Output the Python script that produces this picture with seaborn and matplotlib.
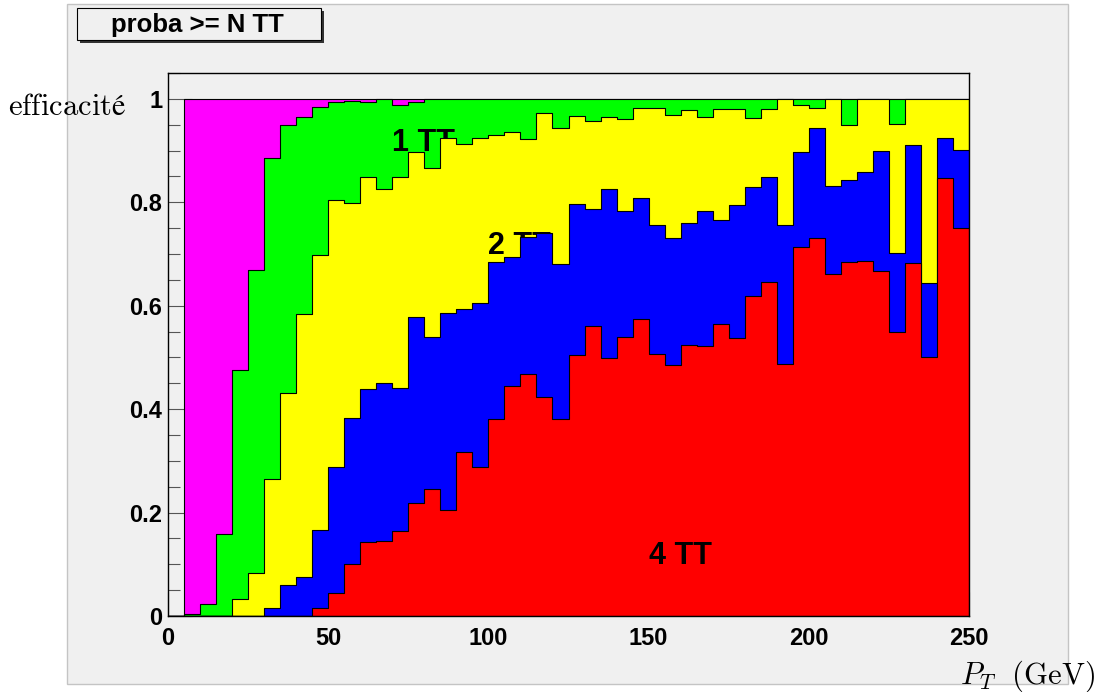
import numpy as np
import pandas as pd
import matplotlib.pyplot as plt
import seaborn as sns
from matplotlib.patches import Rectangle
from matplotlib.ticker import MultipleLocator

# bins of 5 GeV from 0 to 250
edges = np.arange(0, 255, 5)
centers = edges[:-1] + 2.5

# efficiency for >= N TT, one value per bin
proba_0 = [0.0] + [1.0] * 49
proba_1 = [0.0, 0.003, 0.023, 0.159, 0.476, 0.670, 0.885, 0.950, 0.965, 0.985,
           0.993, 0.995, 0.993, 1.0, 0.988, 0.993] + [1.0] * 34
proba_2 = [0.0, 0.0, 0.0, 0.0, 0.033, 0.083, 0.264, 0.432, 0.584, 0.699,
           0.804, 0.799, 0.849, 0.825, 0.849, 0.897, 0.867, 0.924, 0.913, 0.925,
           0.931, 0.935, 0.923, 0.972, 0.943, 0.967, 0.958, 0.965, 0.961, 0.983,
           0.982, 0.969, 0.979, 0.965, 0.980, 0.981, 0.963, 0.981, 1.0, 0.988,
           0.983, 1.0, 0.949, 1.0, 1.0, 0.951, 1.0, 1.0, 1.0, 1.0]
proba_3 = [0.0, 0.0, 0.0, 0.0, 0.0, 0.0, 0.016, 0.059, 0.075, 0.167,
           0.289, 0.383, 0.438, 0.451, 0.440, 0.579, 0.540, 0.586, 0.594, 0.605,
           0.684, 0.695, 0.732, 0.740, 0.680, 0.797, 0.787, 0.826, 0.783, 0.808,
           0.756, 0.730, 0.760, 0.783, 0.765, 0.795, 0.829, 0.849, 0.756, 0.897,
           0.943, 0.831, 0.843, 0.858, 0.899, 0.701, 0.910, 0.644, 0.924, 0.901]
proba_4 = [0.0, 0.0, 0.0, 0.0, 0.0, 0.0, 0.0, 0.0, 0.0, 0.016,
           0.045, 0.101, 0.143, 0.145, 0.165, 0.219, 0.246, 0.205, 0.317, 0.289,
           0.380, 0.445, 0.467, 0.423, 0.380, 0.504, 0.561, 0.498, 0.540, 0.574,
           0.507, 0.485, 0.525, 0.522, 0.564, 0.537, 0.619, 0.646, 0.488, 0.714,
           0.730, 0.662, 0.685, 0.686, 0.668, 0.550, 0.682, 0.501, 0.847, 0.750]

series = [proba_0, proba_1, proba_2, proba_3, proba_4]
colors = ['#ff00ff', '#00ff00', '#ffff00', '#0000ff', '#ff0000']

labels = ['1 TT', '2 TT', '4 TT']
label_x = [70, 100, 150]
label_y = [0.9, 0.7, 0.1]
label_z = [2.5, 3.5, 6]

plt.rcParams['font.family'] = ['Liberation Sans', 'DejaVu Sans']
plt.rcParams['mathtext.fontset'] = 'cm'

W, H = 1101, 692
fig = plt.figure(figsize=(W / 100, H / 100), dpi=100, facecolor='white')

# grey canvas
fig.add_artist(Rectangle((67 / W, 1 - 684 / H), (1068 - 67) / W, (684 - 4) / H,
                         transform=fig.transFigure, facecolor='#f0f0f0',
                         edgecolor='#c4c4c4', lw=1, zorder=-2))

ax = fig.add_axes([168 / W, 1 - 616 / H, (969 - 168) / W, (616 - 73) / H])
ax.set_facecolor('#f0f0f0')

for i, (vals, c) in enumerate(zip(series, colors)):
    df = pd.DataFrame({'pt': centers, 'eff': vals})
    sns.histplot(data=df, x='pt', weights='eff', binwidth=5, binrange=(0, 250),
                 element='step', fill=True, color=c, alpha=1,
                 edgecolor='black', linewidth=0.8, ax=ax, zorder=i + 1)

for t, x, y, z in zip(labels, label_x, label_y, label_z):
    ax.text(x, y, t, fontsize=22, fontweight='bold', ha='left', va='baseline',
            zorder=z)

ax.set_xlim(0, 250)
ax.set_ylim(0, 1.05)
ax.set_xlabel('')
ax.set_ylabel('')
ax.set_axisbelow(True)
ax.xaxis.set_major_locator(MultipleLocator(50))
ax.yaxis.set_minor_locator(MultipleLocator(0.05))
ax.set_yticks([0, 0.2, 0.4, 0.6, 0.8, 1.0])
ax.set_yticklabels(['0', '0.2', '0.4', '0.6', '0.8', '1'])
ax.tick_params(axis='both', which='both', direction='in', color='#555555',
               width=0.8, labelsize=17)
ax.tick_params(axis='y', which='major', length=17, pad=4)
ax.tick_params(axis='y', which='minor', length=8.5)
ax.tick_params(axis='x', which='major', length=17, pad=8)
for lab in ax.get_xticklabels() + ax.get_yticklabels():
    lab.set_fontweight('bold')
for s in ax.spines.values():
    s.set_color('black')
    s.set_linewidth(1.0)
    s.set_zorder(10)

# title box with shadow
fig.add_artist(Rectangle((80 / W, 1 - 43 / H), (324 - 80) / W, (43 - 11) / H,
                         transform=fig.transFigure, facecolor='#333333',
                         edgecolor='none', zorder=5))
fig.add_artist(Rectangle((77 / W, 1 - 40 / H), (321 - 77) / W, (40 - 8) / H,
                         transform=fig.transFigure, facecolor='#f0f0f0',
                         edgecolor='black', lw=0.8, zorder=6))
fig.text(197 / W, 1 - 25 / H, 'proba >= N TT', fontsize=18.5, fontweight='bold',
         ha='center', va='center', zorder=7)

fig.text(8 / W, 1 - 115 / H, r'$\mathrm{efficacité}$', fontsize=22,
         ha='left', va='baseline')
fig.text(1095 / W, 1 - 684 / H, r'$P_T\ \ \mathrm{(GeV)}$', fontsize=22,
         ha='right', va='baseline')

fig.savefig('out.png', dpi=100, facecolor='white')
